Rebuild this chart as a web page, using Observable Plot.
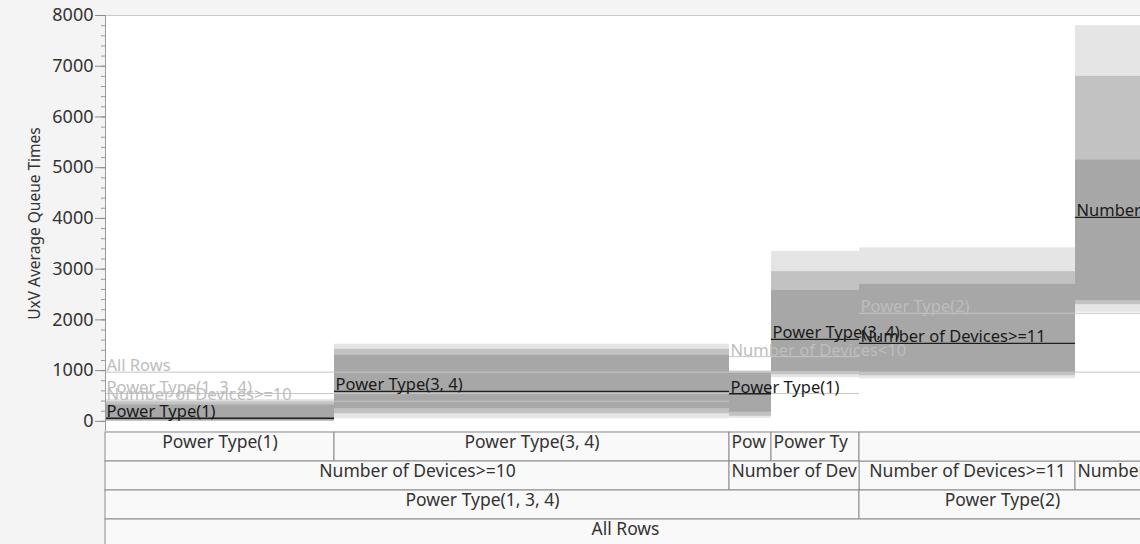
<!DOCTYPE html>
<html><head><meta charset="utf-8">
<script src="https://cdn.jsdelivr.net/npm/d3@7"></script>
<script src="https://cdn.jsdelivr.net/npm/@observablehq/plot@0.6"></script>
<style>
html,body{margin:0;padding:0;background:#f4f4f4;overflow:hidden;width:1140px;height:544px}
#chart svg{display:block;max-width:none !important}
#chart .tbl{margin-top:-10px;position:relative}
</style></head><body><div id="chart"></div>
<script>
// ---- data ----
const leafNames = ["Power Type(1)", "Power Type(3, 4)", "Power Type(1)", "Power Type(3, 4)", "Number of Devices>=11", "Number of Devices<11"];
const leafCounts = [2290, 3950, 420, 880, 2160, 700];
const leafMeans = [60, 590, 545, 1615, 1537, 4020];
const leafTableRow = [1, 1, 1, 1, 2, 2];

const parentNames = ["Number of Devices>=10", "Number of Devices<10", "Power Type(1, 3, 4)", "Power Type(2)", "All Rows"];
const parentFirst = [0, 2, 0, 4, 0];
const parentLast = [1, 3, 3, 5, 5];
const parentMeans = [396, 1275, 548, 2130, 970];
const parentTableRow = [2, 2, 3, 3, 4];

const blankFirst = [4];
const blankLast = [5];
const blankRow = [1];

// point-cloud envelopes per leaf (sparse / medium / dense)
const cloudLeaf = [0,0,0, 1,1,1, 2,2,2, 3,3,3, 4,4,4, 5,5,5];
const cloudLevel = ["sparse","medium","dense","sparse","medium","dense","sparse","medium","dense","sparse","medium","dense","sparse","medium","dense","sparse","medium","dense"];
const cloudLow = [0, 0, 15, 50, 150, 250, 60, 100, 180, 860, 920, 980, 840, 900, 960, 2150, 2300, 2380];
const cloudHigh = [430, 370, 320, 1520, 1420, 1300, 1000, 980, 950, 3350, 2950, 2580, 3420, 2950, 2700, 7800, 6800, 5150];

const yTicks = [0, 1000, 2000, 3000, 4000, 5000, 6000, 7000, 8000];
const yTitle = "UxV Average Queue Times";

// ---- build ----
const FONT = "'Noto Sans', 'Open Sans', sans-serif";
const W = 1145;
const cum = [0, ...d3.cumsum(leafCounts)];
const total = cum[cum.length - 1];

const leaves = leafNames.map((name, i) => ({name, x1: cum[i], x2: cum[i + 1], mean: leafMeans[i], row: leafTableRow[i]}));
const parents = parentNames.map((name, i) => ({name, x1: cum[parentFirst[i]], x2: cum[parentLast[i] + 1], mean: parentMeans[i], row: parentTableRow[i]}));
const bands = cloudLeaf.map((l, i) => ({x1: cum[l], x2: cum[l + 1], lo: cloudLow[i], hi: cloudHigh[i], level: cloudLevel[i]}));
const blanks = blankFirst.map((f, i) => ({name: "", x1: cum[f], x2: cum[blankLast[i] + 1], row: blankRow[i]}));

const minorTicks = d3.range(0, 8001, 200);

const main = Plot.plot({
  width: W, height: 431,
  marginLeft: 105, marginRight: 0, marginTop: 15, marginBottom: 0,
  style: {background: "transparent", fontFamily: FONT, fontSize: "17.5px", maxWidth: "none"},
  x: {domain: [0, total], axis: null},
  y: {domain: [-200, 8000], axis: null},
  opacity: {type: "ordinal", domain: ["sparse", "medium", "dense"], range: [0.28, 0.5, 0.8]},
  marks: [
    Plot.frame({fill: "white", stroke: null}),
    Plot.ruleY([8000], {stroke: "#c8c8c8"}),
    Plot.rect(bands, {x1: "x1", x2: "x2", y1: "lo", y2: "hi", fill: "#a0a0a0", fillOpacity: "level"}),
    Plot.ruleY(parents, {x1: "x1", x2: "x2", y: "mean", stroke: "#c6c6c6", strokeWidth: 1}),
    Plot.ruleY(leaves, {x1: "x1", x2: "x2", y: "mean", stroke: "#1e1e1e", strokeWidth: 1.4}),
    Plot.text(parents, {x: "x1", y: "mean", text: "name", textAnchor: "start", lineAnchor: "bottom", dx: 1, dy: -1, fill: "#bdbdbd", fontSize: 16.5}),
    Plot.text(leaves, {x: "x1", y: "mean", text: "name", textAnchor: "start", lineAnchor: "bottom", dx: 1, dy: -1, fill: "#1a1a1a", fontSize: 16.5}),
    Plot.ruleX([0], {stroke: "#9a9a9a"}),
    Plot.axisY(minorTicks, {tickSize: 4, tickFormat: () => "", stroke: "#9a9a9a"}),
    Plot.axisY(yTicks, {tickSize: 10, tickFormat: () => "", stroke: "#8a8a8a", label: null}),
    Plot.text(yTicks, {y: d => d, frameAnchor: "left", textAnchor: "end", dx: -12, text: d => String(d), fill: "#333", fontSize: 18}),
    Plot.text([yTitle], {frameAnchor: "left", textAnchor: "middle", dx: -70, rotate: -90, fill: "#333", fontSize: 15.5})
  ]
});

// table below the plot (its svg overlaps the plot's bottom 10px, transparent)
const TFONT = 17.5;
const ctx = document.createElement("canvas").getContext("2d");
ctx.font = `${TFONT}px ${FONT}`;
const xs = d3.scaleLinear([0, total], [105, W]);
const cells = [...leaves, ...parents, ...blanks].map(c => {
  const wpx = xs(c.x2) - xs(c.x1) - 4;
  let t = c.name, fits = ctx.measureText(t).width <= wpx;
  if (!fits && c.x2 < total) {
    while (t.length > 0 && ctx.measureText(t).width > wpx) t = t.slice(0, -1);
  }
  return {...c, text: t, fits};
});

const table = Plot.plot({
  width: W, height: 123,
  marginLeft: 105, marginRight: 0, marginTop: 11, marginBottom: 0,
  style: {background: "transparent", fontFamily: FONT, fontSize: "17.5px", maxWidth: "none"},
  x: {domain: [0, total], axis: null},
  y: {domain: [1, 2, 3, 4], type: "band", range: [11, 127], padding: 0, axis: null},
  marks: [
    Plot.barX(cells, {x1: "x1", x2: "x2", y: "row", fill: "#f9f9f9", stroke: "#8c8c8c", strokeWidth: 1}),
    Plot.text(cells.filter(c => c.fits), {x: d => (d.x1 + d.x2) / 2, y: "row", text: "text", dy: -5, fill: "#333", fontSize: TFONT}),
    Plot.text(cells.filter(c => !c.fits), {x: "x1", y: "row", text: "text", textAnchor: "start", dx: 2, dy: -5, fill: "#333", fontSize: TFONT})
  ]
});
table.classList.add("tbl");

document.getElementById("chart").append(main, table);
</script></body></html>
